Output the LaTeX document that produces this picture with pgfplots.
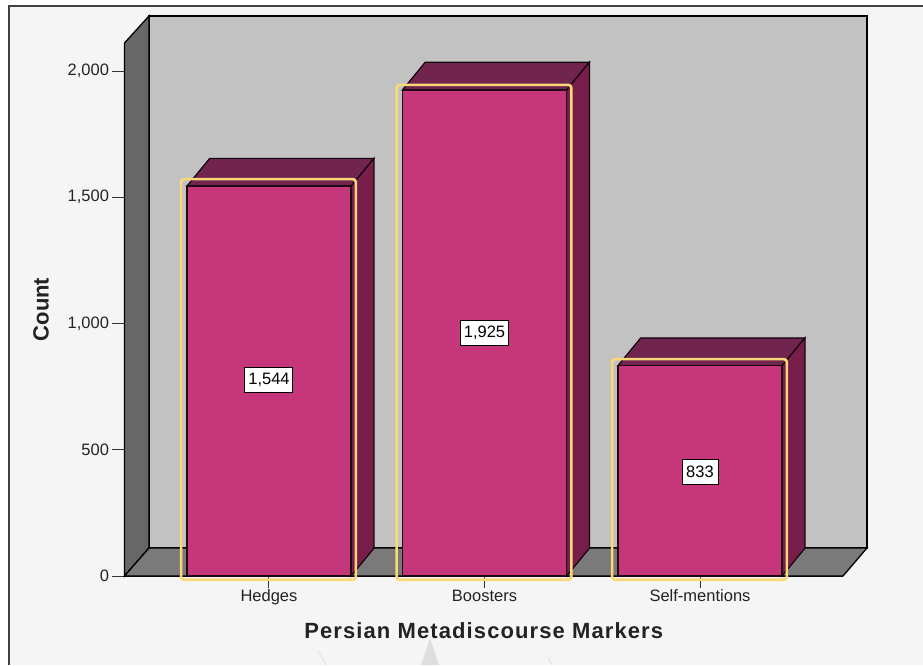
\documentclass[border=0pt]{standalone}
\usepackage{fontspec}
\setmainfont{Liberation Sans}
\usepackage{pgfplots}
\pgfplotsset{compat=1.18}
\definecolor{pagebg}{RGB}{245,245,245}
\definecolor{wall}{RGB}{193,194,193}
\definecolor{wallside}{RGB}{122,122,122}
\definecolor{floorc}{RGB}{122,122,122}
\definecolor{barfront}{RGB}{198,54,122}
\definecolor{bartop}{RGB}{112,36,78}
\definecolor{barside}{RGB}{120,30,75}
\definecolor{outline}{RGB}{250,216,120}
\definecolor{inktext}{RGB}{35,35,35}

\begin{document}
\begin{tikzpicture}[x=1pt,y=1pt]
\useasboundingbox (0,0) rectangle (923,665);
% page background and frame (1 unit = 1 px of the reference)
\fill[pagebg] (9,0) rectangle (923,659);
\draw[black!75, line width=1.4pt] (9,0) -- (9,659) -- (923,659);
% faint watermark behind the axis title
\fill[black!13] (430,27) -- (421,0) -- (439,0) -- cycle;
\draw[black!9, line width=1.5pt] (318,14) -- (326,0);
\draw[black!9, line width=1.5pt] (552,0) -- (548,8);

\begin{axis}[
    at={(124.5pt,89pt)}, anchor=south west,
    scale only axis, width=718.5pt, height=533pt,
    xmin=-0.6705, xmax=2.6636, ymin=0, ymax=2111,
    clip=false,
    axis x line=bottom, axis y line=left,
    axis line style={-, black, line width=1.3pt},
    tick align=outside,
    major tick length=12pt,
    tick style={black!80, line width=1pt},
    xtick={0,1,2}, xticklabels={Hedges,Boosters,Self-mentions},
    ytick={0,500,1000,1500,2000},
    /pgf/number format/assume math mode=true,
    /pgf/number format/1000 sep={,},
    tick label style={font=\fontsize{16.5}{18}\selectfont, text=inktext},
    xticklabel style={text height=12pt, text depth=3pt, yshift=2pt},
    xlabel={\addfontfeature{LetterSpace=5}Persian Metadiscourse Markers},
    ylabel={Count},
    label style={font=\fontsize{22}{24}\selectfont\bfseries, text=inktext},
    xlabel style={yshift=-11pt},
    ylabel style={yshift=12pt},
]
% box walls and floor
\addplot[fill=wall, draw=black, line width=1.4pt] coordinates {
    (-0.5568,111) (-0.5568,2218) (2.775,2218) (2.775,111)} -- cycle;
\addplot[left color=wallside!85!black, right color=wallside!115!white, draw=black, line width=1.3pt] coordinates {
    (-0.6705,0) (-0.6705,2111) (-0.5568,2218) (-0.5568,111)} -- cycle;
\addplot[fill=floorc, draw=black, line width=1.3pt] coordinates {
    (-0.6705,0) (2.6636,0) (2.775,111) (-0.5568,111)} -- cycle;

% bar tops
\addplot[fill=bartop, draw=black!85!bartop, line width=1.2pt] coordinates {
    (-0.381,1544) (-0.275,1654) (0.487,1654) (0.381,1544)} -- cycle;
\addplot[fill=bartop, draw=black!85!bartop, line width=1.2pt] coordinates {
    (0.619,1925) (0.725,2035) (1.487,2035) (1.381,1925)} -- cycle;
\addplot[fill=bartop, draw=black!85!bartop, line width=1.2pt] coordinates {
    (1.619,833) (1.725,943) (2.487,943) (2.381,833)} -- cycle;
% bar sides
\addplot[fill=barside, draw=black!85!barside, line width=1.2pt] coordinates {
    (0.381,0) (0.381,1544) (0.487,1654) (0.487,110)} -- cycle;
\addplot[fill=barside, draw=black!85!barside, line width=1.2pt] coordinates {
    (1.381,0) (1.381,1925) (1.487,2035) (1.487,110)} -- cycle;
\addplot[fill=barside, draw=black!85!barside, line width=1.2pt] coordinates {
    (2.381,0) (2.381,833) (2.487,943) (2.487,110)} -- cycle;
% bar fronts
\addplot[ybar, bar width=0.762, fill=barfront, draw=black!85!barfront, line width=1.4pt] coordinates {
    (0,1544) (1,1925) (2,833)};
% selection outlines
\addplot[draw=outline, line width=2.6pt, rounded corners=3pt] coordinates {
    (-0.408,-15) (-0.408,1572) (0.403,1572) (0.403,-15)} -- cycle;
\addplot[draw=outline, line width=2.6pt, rounded corners=3pt] coordinates {
    (0.592,-15) (0.592,1945) (1.403,1945) (1.403,-15)} -- cycle;
\addplot[draw=outline, line width=2.6pt, rounded corners=3pt] coordinates {
    (1.592,-15) (1.592,859) (2.403,859) (2.403,-15)} -- cycle;

% value labels
\tikzset{vallabel/.style={fill=white, draw=black, line width=1pt, inner sep=0pt,
    minimum height=25pt, font=\fontsize{16.5}{18}\selectfont, text=black}}
\node[vallabel, minimum width=48pt] at (axis cs:0,776) {1,544};
\node[vallabel, minimum width=48pt] at (axis cs:1,962) {1,925};
\node[vallabel, minimum width=36pt] at (axis cs:2,412) {833};
\end{axis}
\end{tikzpicture}
\end{document}
